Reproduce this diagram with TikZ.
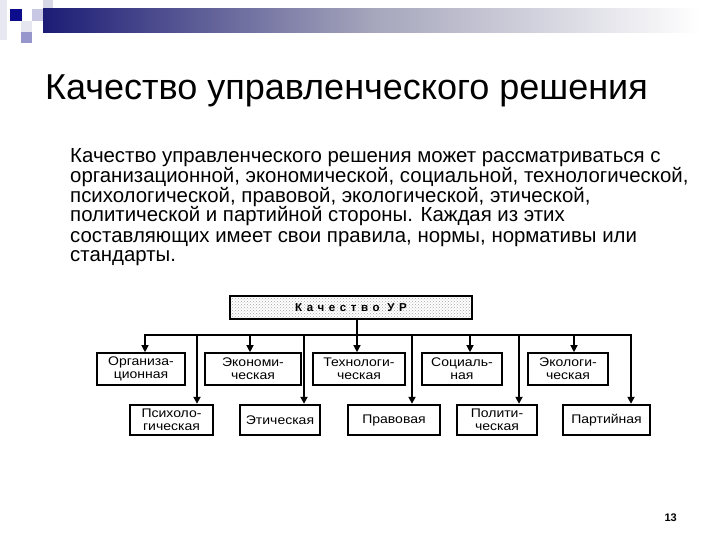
\documentclass[tikz,border=0pt]{standalone}
\usepackage{fontspec}
\setmainfont{Liberation Sans}
\newfontfamily\boxfont[FakeStretch=1.12]{Liberation Sans}
\newfontfamily\spacedfont[LetterSpace=40]{Liberation Sans}
\usetikzlibrary{arrows.meta,patterns}
\definecolor{navy}{RGB}{28,28,118}
\definecolor{midgr}{RGB}{165,165,188}
\definecolor{sqA}{RGB}{232,232,242}
\definecolor{sqB}{RGB}{215,215,232}
\definecolor{sqC}{RGB}{200,200,228}
\definecolor{sqD}{RGB}{230,230,240}
\definecolor{sqE}{RGB}{150,150,205}
\definecolor{sqF}{RGB}{12,12,140}
\begin{document}
\begin{tikzpicture}[x=1pt,y=-1pt,
  upbox/.style={draw,line width=1.6pt,minimum width=#1,minimum height=32pt,inner sep=0pt,align=center,font=\boxfont\fontsize{12.5}{13}\selectfont},
  lowbox/.style={draw,line width=2.4pt,minimum width=#1,minimum height=30pt,inner sep=0pt,align=center,font=\boxfont\fontsize{12.5}{13}\selectfont},
  arr/.style={line width=1.2pt,-{Triangle[length=7pt,width=7pt]}},
  thickarr/.style={line width=2.2pt,-{Triangle[length=7pt,width=7pt]}},
  bodyline/.style={anchor=base west,inner sep=0pt,font=\fontsize{20.4}{20.4}\selectfont}
]
\useasboundingbox (0,0) rectangle (720,540);
\fill[white] (0,0) rectangle (720,540);
% decoration
\fill[sqA] (0,0) rectangle (7,40);
\fill[sqB] (43,0) rectangle (53,9);
\fill[sqC] (32,9) rectangle (43,21);
\fill[sqD] (21,21) rectangle (32,32);
\fill[sqE] (21,32) rectangle (32,43);
\fill[sqF] (10,9) rectangle (22,21);
\shade[left color=navy,right color=white,middle color=midgr] (43,9) rectangle (700,33);
% title
\node[anchor=base west,inner sep=0pt,font=\fontsize{36}{36}\selectfont] (title) at (45,100) {Качество управленческого решения};
% body
\node[bodyline] (l1) at (70,163) {Качество управленческого решения может рассматриваться с};
\node[bodyline] (l2) at (70,183) {организационной, экономической, социальной, технологической,};
\node[bodyline] (l3) at (70,203) {психологической, правовой, экологической, этической,};
\node[bodyline] (l4) at (70,222) {политической и партийной стороны. Каждая из этих};
\node[bodyline] (l5) at (70,242) {составляющих имеет свои правила, нормы, нормативы или};
\node[bodyline] (l6) at (70,261) {стандарты.};
% diagram
\node[draw,line width=2pt,minimum width=242pt,minimum height=23pt,inner sep=0pt,
  pattern=crosshatch dots,pattern color=gray!70,font=\spacedfont\bfseries\fontsize{11.5}{11.5}\selectfont] (top) at (351,307.5) {Качество УР};
\node[upbox=88pt] (org) at (141,369) {Организа-\\ционная};
\node[upbox=96pt] (eco) at (253,369) {Экономи-\\ческая};
\node[upbox=92pt] (tech) at (359,369) {Технологи-\\ческая};
\node[upbox=80pt] (soc) at (462,369) {Социаль-\\ная};
\node[upbox=80pt] (ecol) at (568,369) {Экологи-\\ческая};
\node[lowbox=83pt] (psy) at (171.5,420) {Психоло-\\гическая};
\node[lowbox=80pt] (eth) at (280,420) {Этическая};
\node[lowbox=92pt] (prav) at (394,420) {Правовая};
\node[lowbox=80pt] (pol) at (497,420) {Полити-\\ческая};
\node[lowbox=87pt] (part) at (606.5,420) {Партийная};
% bus
\coordinate (b1) at (145,335);
\coordinate (b2) at (197,335);
\coordinate (b3) at (250,335);
\coordinate (b4) at (304,335);
\coordinate (b5) at (357,335);
\coordinate (b6) at (412,335);
\coordinate (b7) at (470,335);
\coordinate (b8) at (519,335);
\coordinate (b9) at (574,335);
\coordinate (b10) at (631,335);
\draw[line width=1.8pt] (b5 |- top.south) -- (b5);
\draw[line width=2pt,line cap=rect] (b1) -- (b10);
\draw[arr] (b1) -- (b1 |- org.north);
\draw[arr] (b3) -- (b3 |- eco.north);
\draw[arr] (b5) -- (b5 |- tech.north);
\draw[arr] (b7) -- (b7 |- soc.north);
\draw[arr] (b9) -- (b9 |- ecol.north);
\draw[thickarr] (b2) -- (b2 |- psy.north);
\draw[thickarr] (b4) -- (b4 |- eth.north);
\draw[thickarr] (b6) -- (b6 |- prav.north);
\draw[thickarr] (b8) -- (b8 |- pol.north);
\draw[thickarr] (b10) -- (b10 |- part.north);
% page number
\node[anchor=base east,inner sep=0pt,font=\bfseries\fontsize{11}{11}\selectfont] (pg) at (677,521) {13};
\end{tikzpicture}
\end{document}
